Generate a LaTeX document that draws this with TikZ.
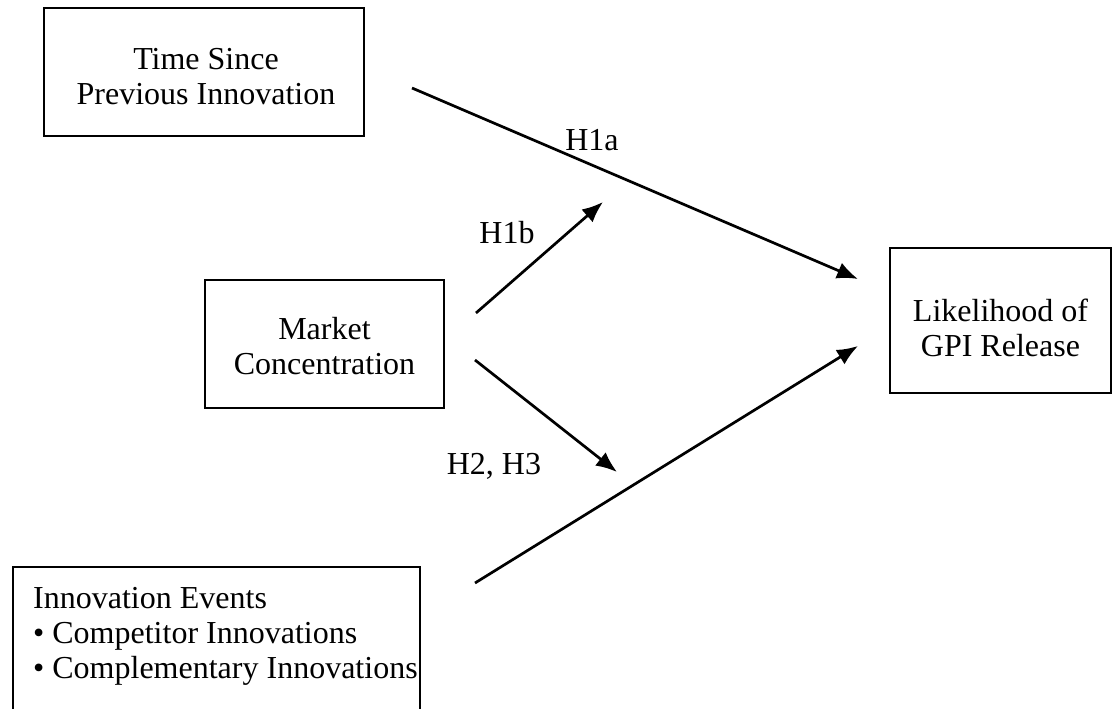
\documentclass[tikz,border=0pt]{standalone}
\usepackage{fontspec}
\setmainfont{Liberation Serif}
\usetikzlibrary{arrows.meta}
\begin{document}
\begin{tikzpicture}[x=1pt,y=-1pt,
  box/.style={draw, line width=1.6pt, inner sep=0pt},
  lab/.style={inner sep=0pt, align=center, font=\fontsize{32}{35}\selectfont},
  arr/.style={line width=2.7pt, -{Latex[length=21pt,width=17pt]}}]
\path[use as bounding box] (0,0) rectangle (1114,709);
\clip (0,0) rectangle (1114,709);
\node[box, minimum width=320pt, minimum height=128pt] (time) at (204,72) {};
\node[lab] (timetext) at (206,77) {Time Since\\Previous Innovation};
\node[box, minimum width=239pt, minimum height=128pt] (market) at (324.5,344) {};
\node[lab] (markettext) at (324.5,346) {Market\\Concentration};
\node[box, minimum width=221pt, minimum height=145pt] (gpi) at (1000.5,320.5) {};
\node[lab] (gpitext) at (1000.5,328) {Likelihood of\\GPI Release};
\draw[line width=1.6pt] (13,730) -- (13,567) -- (420,567) -- (420,730);
\node[lab, align=left, anchor=base west] (events) at (33,678) {Innovation Events\\\textbullet\ Competitor Innovations\\\textbullet\ Complementary Innovations};
\coordinate (a1s) at (412,88); \coordinate (a1e) at (858,279);
\coordinate (a2s) at (476,313); \coordinate (a2e) at (603,202);
\coordinate (a3s) at (475,360); \coordinate (a3e) at (617,472);
\coordinate (a4s) at (475,583); \coordinate (a4e) at (858,346);
\draw[arr] (a1s) -- (a1e);
\draw[arr] (a2s) -- (a2e);
\draw[arr] (a3s) -- (a3e);
\draw[arr] (a4s) -- (a4e);
\node[lab] (h1a) at (592,140) {H1a};
\node[lab] (h1b) at (507,233) {H1b};
\node[lab] (h23) at (494,466) {H2, H3};
\end{tikzpicture}
\end{document}
